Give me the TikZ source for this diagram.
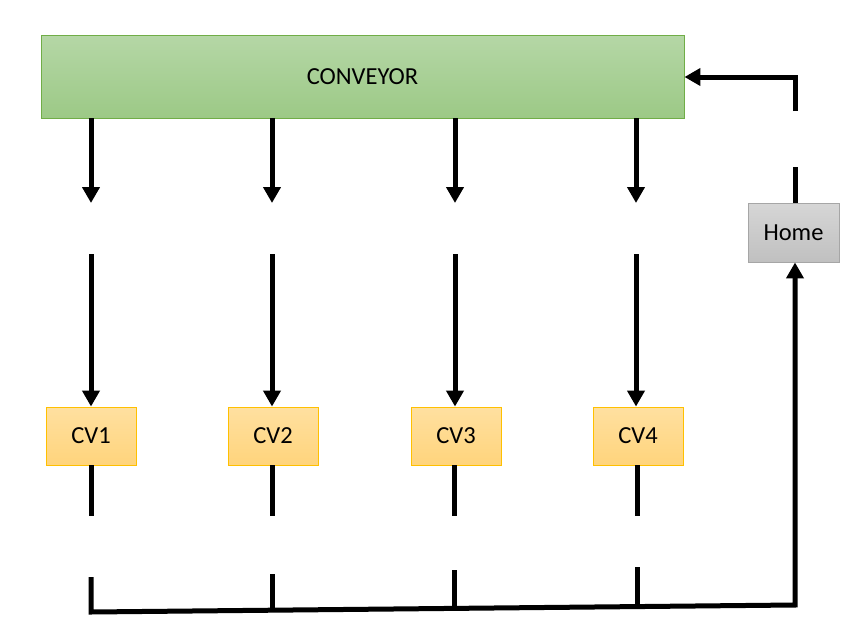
\documentclass[tikz,border=0pt]{standalone}
\usepackage{fontspec}
\setmainfont{Carlito}
\usetikzlibrary{arrows.meta}

\tikzset{
  box/.style={draw, line width=0.9pt, inner sep=0pt, font=\fontsize{24.5}{28}\selectfont},
  convbox/.style={box, draw={rgb,255:red,112;green,173;blue,71},
    top color={rgb,255:red,181;green,215;blue,166}, bottom color={rgb,255:red,156;green,201;blue,134}},
  cvbox/.style={box, draw={rgb,255:red,255;green,192;blue,0},
    top color={rgb,255:red,255;green,224;blue,160}, bottom color={rgb,255:red,255;green,212;blue,124},
    minimum width=90pt, minimum height=58pt},
  homebox/.style={box, draw={rgb,255:red,166;green,166;blue,166},
    top color={rgb,255:red,214;green,214;blue,214}, bottom color={rgb,255:red,192;green,192;blue,192},
    minimum width=91pt, minimum height=59pt},
  flow/.style={line width=5pt, black},
  flowarrow/.style={flow, -{Triangle[width=17pt,length=16pt]}},
}

\begin{document}
\begin{tikzpicture}[x=1pt,y=-1pt]
  \useasboundingbox (0,0) rectangle (867,637);

  % conveyor and stations
  \node[convbox, minimum width=643pt, minimum height=83pt] (conv) at (362.5,76.5) {CONVEYOR};
  \foreach \i/\x in {1/91,2/273,3/456,4/638}{
    \node[cvbox] (cv\i) at (\x,436) {CV\i};
  }
  \node[homebox] (home) at (793.5,232.5) {Home};

  % feed from the conveyor down to each station
  \foreach \i/\x in {1/91,2/272,3/455,4/636}{
    \coordinate (a\i) at (\x,203);
    \coordinate (b\i) at (\x,254);
    \draw[flowarrow] (conv.south -| a\i) -- (a\i);
    \draw[flowarrow] (b\i) -- (cv\i.north -| b\i);
  }

  % outlets below the stations
  \foreach \i/\x in {1/91,2/272,3/454,4/637}{
    \coordinate (c\i) at (\x,516);
    \draw[flow] (cv\i.south -| c\i) -- (c\i);
  }

  % return path to home
  \coordinate (d1) at (91,577);
  \coordinate (e1) at (91,612);
  \coordinate (e5) at (795,605);
  \coordinate (d2) at (272,574);
  \coordinate (e2) at (272,610.2);
  \coordinate (d3) at (454,570);
  \coordinate (e3) at (454,608.4);
  \coordinate (d4) at (637,567);
  \coordinate (e4) at (637,606.6);
  \draw[flowarrow, line join=miter] (d1) -- (e1) -- (e5) -- (home.south -| e5);
  \draw[flow] (d2) -- (e2);
  \draw[flow] (d3) -- (e3);
  \draw[flow] (d4) -- (e4);

  % home back to the conveyor
  \coordinate (f1) at (795,167);
  \coordinate (f2) at (795,111);
  \coordinate (f3) at (795,77);
  \draw[flow] (home.north -| f1) -- (f1);
  \draw[flowarrow, line join=miter] (f2) -- (f3) -- (conv.east |- f3);
\end{tikzpicture}
\end{document}
